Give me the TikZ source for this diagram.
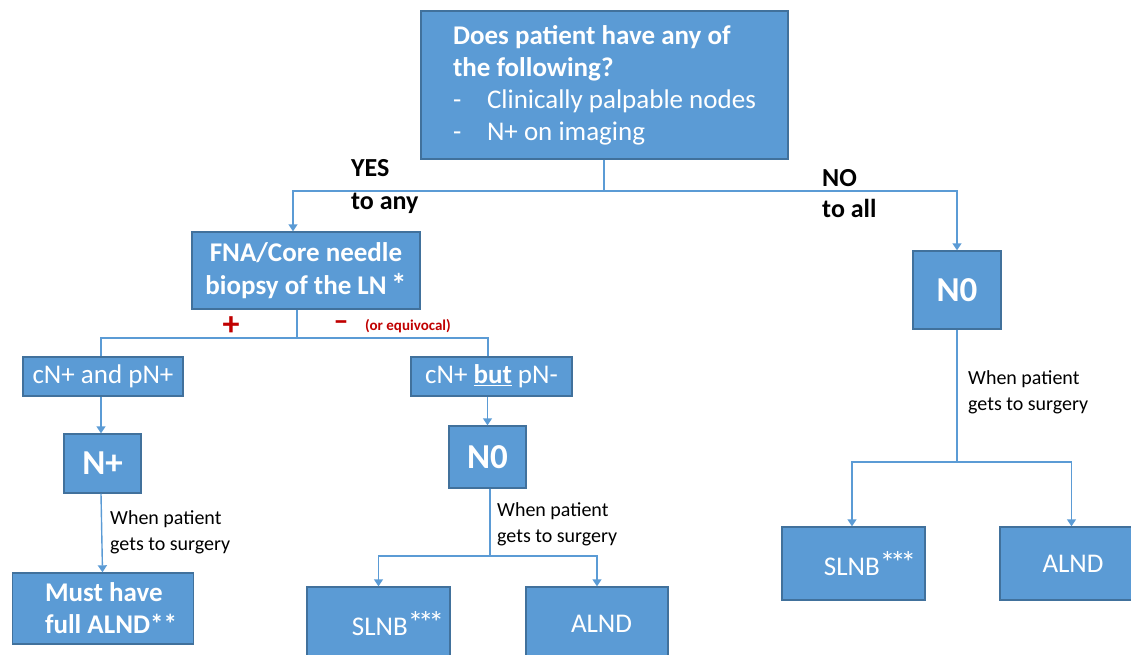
\documentclass[tikz,border=0pt]{standalone}
\usepackage{fontspec}
\setmainfont{Carlito}
\usetikzlibrary{arrows.meta,calc}
\definecolor{boxfill}{HTML}{5B9BD5}
\definecolor{boxline}{HTML}{41719C}
\definecolor{conncol}{HTML}{5B9BD5}
\definecolor{redtxt}{HTML}{C00000}
\newcommand\fsz[2]{\fontsize{#1pt}{#2pt}\selectfont}
\newcommand\stars[2]{\raisebox{#1pt}{\fsz{31}{31}#2}}
\newcommand\threestars{*\kern-5pt*\kern-5pt*}
\begin{document}
\begin{tikzpicture}[x=1pt,y=-1pt,
  box/.style={draw=boxline, fill=boxfill, line width=1.4pt, text=white, inner sep=0pt, align=center, font=\fsz{27}{32}},
  conn/.style={draw=conncol, line width=1.4pt},
  arr/.style={conn, -{Triangle[length=7pt,width=9pt]}},
  lbl/.style={anchor=west, align=left, inner sep=0pt, font=\fsz{20}{26}},
  yn/.style={anchor=west, align=left, inner sep=0pt, font=\fsz{26}{33}\bfseries},
  red/.style={text=redtxt, inner sep=0pt, font=\bfseries}]
\useasboundingbox (0,0) rectangle (1131,654);

% boxes
\node[box, minimum width=367pt, minimum height=148pt, align=left] (top) at (604.5,85)
  {\textbf{Does patient have any of}\\\textbf{the following?}\\\makebox[34pt][l]{-}Clinically palpable nodes\\\makebox[34pt][l]{-}N+ on imaging};
\node[box, minimum width=228pt, minimum height=77pt, font=\fsz{27}{33}\bfseries] (fna) at (306,270.5)
  {FNA/Core needle\\biopsy of the LN\,\stars{-1}{*}};
\node[box, minimum width=88pt, minimum height=78pt, font=\fsz{35}{40}\bfseries] (n0r) at (957,290) {N0};
\node[box, minimum width=160pt, minimum height=39pt] (cpp) at (103,376.5) {cN+ and pN+};
\node[box, minimum width=161pt, minimum height=39pt] (cbp) at (491.5,376.5) {cN+ \underline{\textbf{but}} pN-};
\node[box, minimum width=77pt, minimum height=59pt, font=\fsz{35}{40}\bfseries] (nplus) at (102.5,463.5) {N+};
\node[box, minimum width=181pt, minimum height=71pt, align=left, font=\fsz{27}{32}\bfseries] (must) at (103,608.5)
  {\hspace*{16pt}Must have\\\hspace*{16pt}full ALND**};
\node[box, minimum width=77pt, minimum height=62pt, font=\fsz{35}{40}\bfseries] (n0m) at (487.5,457) {N0};
\node[box, minimum width=143pt, minimum height=73pt] (slnbm) at (378.5,623.5) {\hspace*{39pt}SLNB\stars{2}{\threestars}};
\node[box, minimum width=142pt, minimum height=73pt] (alndm) at (597,623.5) {\hspace*{9pt}ALND};
\node[box, minimum width=143pt, minimum height=73pt] (slnbr) at (853.5,563.5) {\hspace*{33pt}SLNB\stars{2}{\threestars}};
\node[box, minimum width=143pt, minimum height=73pt] (alndr) at (1071.5,563.5) {\hspace*{3pt}ALND};

% junctions
\coordinate (j1) at (604,191);
\coordinate (j2) at (297,338);
\coordinate (j3) at (490,556);
\coordinate (j4) at (957,462);

% connectors
\draw[conn] (top.south -| j1) -- (j1);
\draw[arr] (j1) -| ([xshift=-13pt]fna.north);
\draw[arr] (j1) -| (n0r.north);
\draw[conn] (fna.south -| j2) -- (j2);
\draw[conn] (j2) -| ([xshift=-2pt]cpp.north);
\draw[conn] (j2) -| ([xshift=-3.5pt]cbp.north);
\draw[arr] ([xshift=-2pt]cpp.south) -- ([xshift=-1.5pt]nplus.north);
\draw[arr] ([xshift=-1.5pt]nplus.south) -- (nplus.south |- must.north);
\draw[arr] (cbp.south -| n0m.north) -- (n0m.north);
\draw[conn] (n0m.south -| j3) -- (j3);
\draw[arr] (j3) -| (slnbm.north);
\draw[arr] (j3) -| (alndm.north);
\draw[conn] (n0r.south) -- (j4);
\draw[arr] (j4) -| ([xshift=-1.5pt]slnbr.north);
\draw[arr] (j4) -| (alndr.north);

% labels
\node[yn] (yes) at (351,187) {YES\\to any};
\node[yn, font=\fsz{26}{31}\bfseries] (no) at (822,193.5) {NO\\to all};
\node[red, font=\fsz{34}{34}\bfseries] (plus) at (231,326) {+};
\node[red, font=\fsz{30}{30}\bfseries] (minus) at (341,326) {–};
\node[red, anchor=west, font=\fsz{15}{18}\bfseries] (equiv) at (365,326) {(or equivocal)};
\node[lbl] (w1) at (110,532) {When patient\\gets to surgery};
\node[lbl] (w2) at (497,524) {When patient\\gets to surgery};
\node[lbl] (w3) at (968,392.5) {When patient\\gets to surgery};
\end{tikzpicture}
\end{document}
